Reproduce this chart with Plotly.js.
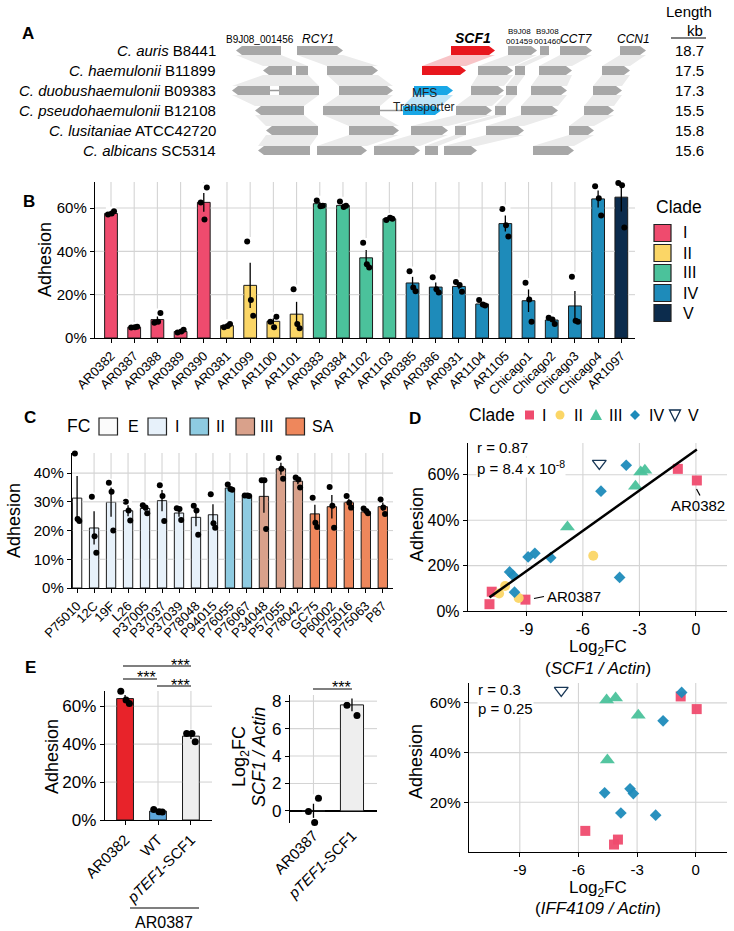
<!DOCTYPE html>
<html>
<head>
<meta charset="utf-8">
<script src="https://cdn.plot.ly/plotly-3.0.1.min.js"></script>
<style>body{margin:0;background:#fff}#fig{width:734px;height:931px}</style>
</head>
<body>
<div id="fig"></div>
<script>
const FONT = 'Liberation Sans, Arial, sans-serif';
const W = 734, H = 931;

// ---------- panel A: gene neighbourhood ----------
const species = ['<i>C. auris</i> B8441', '<i>C. haemulonii</i> B11899', '<i>C. duobushaemulonii</i> B09383',
  '<i>C. pseudohaemulonii</i> B12108', '<i>C. lusitaniae</i> ATCC42720', '<i>C. albicans</i> SC5314'];
const regionKb = ['18.7', '17.5', '17.3', '15.5', '15.8', '15.6'];
const rowY = [50.5, 70.5, 90.5, 110.5, 130.5, 150.5];
// [row, start, end, strand (1 fwd, -1 rev, 0 fragment), kind]
const genes = [
  [0,236,281,-1,'g'],[0,297,343,1,'g'],[0,451,495,1,'r'],[0,508,537,1,'g'],[0,540,549,0,'g'],[0,560,592,1,'g'],[0,620,646,1,'g'],
  [1,263,292,-1,'g'],[1,296,308,0,'g'],[1,327,378,1,'g'],[1,422,466,1,'r'],[1,478,513,1,'g'],[1,515,525,0,'g'],[1,539,572,1,'g'],[1,602,630,1,'g'],
  [2,232,270,-1,'g'],[2,279,319,0,'g'],[2,339,393,1,'g'],[2,414,453,1,'b'],[2,471,504,1,'g'],[2,506,517,0,'g'],[2,531,567,1,'g'],[2,593,622,1,'g'],
  [3,255,304,-1,'g'],[3,323,380,0,'g'],[3,403,441,1,'b'],[3,456,492,1,'g'],[3,495,506,0,'g'],[3,521,558,1,'g'],[3,584,614,1,'g'],
  [4,266,318,-1,'g'],[4,349,399,1,'g'],[4,411,448,1,'g'],[4,455,466,0,'g'],[4,486,524,1,'g'],[4,569,594,1,'g'],
  [5,258,310,-1,'g'],[5,317,367,1,'g'],[5,374,420,1,'g'],[5,425,438,0,'g'],[5,444,477,1,'g'],[5,533,574,1,'g']
];
const spacers = [[2,270,279],[3,380,403]];
// [upper row, upper start, upper end, lower start, lower end, kind]
const links = [
  [0,236,281,263,308,'g'],[0,297,343,327,378,'g'],[0,451,495,422,466,'r'],[0,508,537,478,513,'g'],[0,540,549,515,525,'g'],[0,560,592,539,572,'g'],[0,620,646,602,630,'g'],
  [1,263,308,232,319,'g'],[1,327,378,339,393,'g'],[1,478,513,471,504,'g'],[1,515,525,506,517,'g'],[1,539,572,531,567,'g'],[1,602,630,593,622,'g'],
  [2,232,319,255,304,'g'],[2,339,393,323,380,'g'],[2,414,453,403,441,'b'],[2,471,504,456,492,'g'],[2,506,517,495,506,'g'],[2,531,567,521,558,'g'],[2,593,622,584,614,'g'],
  [3,255,304,266,318,'g'],[3,323,380,349,399,'g'],[3,456,492,411,448,'g'],[3,495,506,455,466,'g'],[3,521,558,486,524,'g'],[3,584,614,569,594,'g'],
  [4,266,318,258,310,'g'],[4,349,399,317,367,'g'],[4,411,448,374,420,'g'],[4,455,466,425,438,'g'],[4,486,524,444,477,'g'],[4,569,594,533,574,'g']
];
const geneColor = {g: '#a7a7a7', r: '#e8161d', b: '#1aa7e6'};
const linkColor = {g: '#ebebeb', r: '#f8c4c7', b: '#bfe5f7'};

// ---------- panel B: adhesion per strain ----------
const bStrains = ['AR0382','AR0387','AR0388','AR0389','AR0390','AR0381','AR1099','AR1100','AR1101','AR0383','AR0384','AR1102',
  'AR1103','AR0385','AR0386','AR0931','AR1104','AR1105','Chicago1','Chicago2','Chicago3','Chicago4','AR1097'];
const bClade = ['I','I','I','I','I','II','II','II','II','III','III','III','III','IV','IV','IV','IV','IV','IV','IV','IV','IV','V'];
const bMean = [57.5,5,8.5,3,62.6,5.7,24.3,7.7,11,62,61.2,37,55,25.4,23.5,23.8,15.7,52.8,17.2,8.3,14.8,64.2,65];
const bReps = [[57,57.5,58.5],[4.8,5,5.2],[7,7.5,11.5],[2.5,3,3.8],[62.5,54.7,69.5],[5,5.5,6.5],[44.5,17.5,10.3],[7.5,5,9.8],
  [22.5,6.5,4.5],[63.5,60.8,61],[63,60.5,61],[44,34,32.5],[54.5,55.5,55],[30.8,23.3,21.6],[28,22.5,21],[25.8,24.5,21.3],
  [17.5,15.5,15],[59.5,52,46.8],[25.5,17.8,7.5],[9.3,8.5,6.5],[28.3,8,7.5],[70,64.5,56.5],[71.5,70.5,51]];
const cladeNames = ['I','II','III','IV','V'];
const cladeColor = {I:'#ef4b6e', II:'#fbd666', III:'#4bc29b', IV:'#1e8bba', V:'#0c2c4d'};

// ---------- panel C: adhesion per C. albicans isolate ----------
const cStrains = ['P75010','12C','19F','L26','P37005','P37037','P37039','P78048','P94015','P76055','P76067','P34048','P57055',
  'P78042','GC75','P60002','P75016','P75063','P87'];
const cGroup = ['E','I','I','I','I','I','I','I','I','II','II','III','III','III','SA','SA','SA','SA','SA'];
const cMean = [31.3,20.9,29.9,26.9,27.7,30.4,26.1,24.6,25.5,34.8,32.2,31.9,41.5,37.2,25.8,28.3,29.9,26.5,28.3];
const cReps = [[46.8,24,23.3],[31.8,18,12.3],[36.6,33.5,20],[30,27,23.5],[28.8,28,26],[35.8,32,23.3],[27.8,27.5,23.7],
  [28.6,27,18.5],[32.6,22.5,21],[36,34.5,34.2],[32.2,32.2,32],[37.5,37.5,20.5],[45.3,41.5,38],[38.5,37.8,35],
  [31.4,22.7,21.2],[35.2,28.6,21],[32,29.7,28],[27.7,26.8,26],[30.8,28,25.8]];
const fcNames = ['E','I','II','III','SA'];
const fcColor = {E:'#fbfbfb', I:'#e7f1fa', II:'#8ecbe1', III:'#d9a18b', SA:'#ee875c'};

// ---------- panel D: expression vs adhesion (same strain order as B) ----------
const scf1FC = [0.05,-9.05,-10.84,-10.96,-0.96,-9.41,-5.45,-10.45,-10.13,-2.71,-2.93,-6.82,-3.21,
  -8.55,-7.71,-8.91,-9.71,-5.04,-9.89,-9.63,-4.05,-3.7,-5.13];
const iff4109FC = [0.05,-3.98,-5.65,-4.18,-0.77,null,null,null,null,-4.1,-4.56,-4.52,-2.94,
  -3.36,-3.19,-4.66,-3.83,-1.67,null,null,-2.05,-0.72,-6.88];
const cladeSymbol = {I:'square', II:'circle', III:'triangle-up', IV:'diamond', V:'triangle-down-open'};
const cladeSize = {I:10, II:10, III:13, IV:9, V:12};

// ---------- panel E ----------
const eStrains = ['AR0382', 'WT', '<i>pTEF1</i>-SCF1'];
const eMean = [64, 4.7, 44.2];
const eReps = [[67.9,63.2,61.4],[5.6,4.4,4.2],[45.6,45.6,41.2]];
const eColor = ['#e8232a', '#5da5da', '#eeeeee'];
const eFcStrains = ['AR0387', '<i>pTEF1</i>-SCF1'];
const eFcMean = [0.01, 7.73];
const eFcReps = [[-0.05,-0.85,0.93],[7.7,8.54,6.95]];

const jitter = [-0.13, 0.03, 0.13];

// ---------- subplot placement (page pixels: left, right, top, bottom) and ranges ----------
const P = {2: [95, 635, 182, 338], 3: [72, 393, 453, 588], 4: [468, 727, 443, 611],
  5: [469, 727, 683, 852], 6: [105, 212, 691, 820], 7: [290, 377, 695, 823]};
const R = {
  x2: [-0.69, 22.59], y2: [0, 72],
  x3: [-0.3, 18.6], y3: [0, 47],
  x4: [-12.1, 1.65], y4: [0, 74],
  x5: [-11.6, 1.6], y5: [0, 68],
  x6: [-0.61, 2.64], y6: [0, 68],
  x7: [-0.61, 1.65], y7: [-0.88, 8.45]
};

// ---------- helpers (page pixels -> paper) ----------
const PX = x => x / W, PY = y => 1 - y / H;
const dx = n => [PX(P[n][0]), PX(P[n][1])];
const dy = n => [PY(P[n][3]), PY(P[n][2])];
const traces = [], shapes = [], annotations = [];
const GRID = '#d4d4d4';

function text(x, y, t, size, extra) {
  annotations.push(Object.assign({xref: 'paper', yref: 'paper', x: PX(x), y: PY(y), text: t, showarrow: false,
    font: {family: FONT, size, color: '#000'}, xanchor: 'center', yanchor: 'middle'}, extra || {}));
}
function seg(x0, y0, x1, y1, w, c) {
  shapes.push({type: 'line', xref: 'paper', yref: 'paper', x0: PX(x0), y0: PY(y0), x1: PX(x1), y1: PY(y1),
    line: {color: c || '#000', width: w || 1.2}});
}
function box(x0, y0, x1, y1, fill) {
  shapes.push({type: 'rect', xref: 'paper', yref: 'paper', x0: PX(x0), y0: PY(y1), x1: PX(x1), y1: PY(y0),
    fillcolor: fill, line: {color: '#222', width: 1.2}});
}
function poly(pts, fill, line) {
  const d = pts.map((p, i) => (i ? 'L' : 'M') + PX(p[0]) + ',' + PY(p[1])).join(' ') + ' Z';
  shapes.push({type: 'path', xref: 'paper', yref: 'paper', path: d, fillcolor: fill,
    line: line ? {color: line, width: 1.3} : {width: 0}});
}
// plain grid for a scatter subplot, drawn as a trace under the markers
function grid(n, xs, ys) {
  const xr = R['x' + n], yr = R['y' + n], gx = [], gy = [];
  xs.forEach(v => { gx.push(v, v, null); gy.push(yr[0], yr[1], null); });
  ys.forEach(v => { gx.push(xr[0], xr[1], null); gy.push(v, v, null); });
  traces.push({type: 'scatter', mode: 'lines', x: gx, y: gy, xaxis: 'x' + n, yaxis: 'y' + n,
    line: {color: GRID, width: 1.1}, hoverinfo: 'skip'});
}
// grid for a bar subplot: line pieces that stop at bars, error bars and dots, so they read as lying behind them
function barGrid(n, means, reps, errs, width, ys) {
  const [l, r, t, b] = P[n], xr = R['x' + n], yr = R['y' + n];
  const fx = v => l + (v - xr[0]) / (xr[1] - xr[0]) * (r - l);
  const fy = v => b - (v - yr[0]) / (yr[1] - yr[0]) * (b - t);
  const pad = 0.02 * (yr[1] - yr[0]);
  means.forEach((m, i) => {
    const top = Math.max(m + errs[i], ...reps[i]) + 1.5 * pad;
    if (top < yr[1]) seg(fx(i), fy(top), fx(i), t, 1.1, GRID);
  });
  ys.forEach(v => {
    let start = xr[0];
    means.forEach((m, i) => {
      let half = 0;
      if (v <= m) half = width / 2 + 0.01;
      else {
        if (v <= m + errs[i] + pad * 0.3) half = 0.04;
        if (reps[i].some(q => Math.abs(q - v) < 1.3 * pad)) half = 0.22;
      }
      if (half) { if (i - half > start) seg(fx(start), fy(v), fx(i - half), fy(v), 1.1, GRID); start = i + half; }
    });
    seg(fx(start), fy(v), r, fy(v), 1.1, GRID);
  });
}
function stdErr(r) {
  const m = r.reduce((a, b) => a + b, 0) / r.length;
  const v = r.reduce((a, b) => a + (b - m) ** 2, 0) / (r.length - 1);
  return Math.sqrt(v / r.length);
}
function barPanel(n, means, reps, colors, width, dot, ys) {
  const idx = means.map((_, i) => i), errs = reps.map(stdErr);
  traces.push({type: 'bar', x: idx, y: means, width, xaxis: 'x' + n, yaxis: 'y' + n,
    marker: {color: colors, line: {color: '#1a1a1a', width: 1}},
    error_y: {type: 'data', array: errs, color: '#000', thickness: 1.3, width: 0}, hoverinfo: 'skip'});
  barGrid(n, means, reps, errs, width, ys);
  const px = [], py = [];
  reps.forEach((r, i) => r.forEach((v, j) => { px.push(i + jitter[j]); py.push(v); }));
  traces.push({type: 'scatter', mode: 'markers', x: px, y: py, xaxis: 'x' + n, yaxis: 'y' + n, cliponaxis: false,
    marker: {color: '#000', size: dot || 6}, hoverinfo: 'skip'});
}

// ---------- panel A drawing (axis in diagram pixel units) ----------
const HALF = 4.5, TIP = 6;
function polyTrace(polys, color) {
  const x = [], y = [];
  polys.forEach(p => { p.concat([p[0]]).forEach(q => { x.push(q[0]); y.push(q[1]); }); x.push(null); y.push(null); });
  return {type: 'scatter', mode: 'lines', x, y, fill: 'toself', fillcolor: color, line: {width: 0, color},
    xaxis: 'x', yaxis: 'y', hoverinfo: 'skip', cliponaxis: false};
}
['g', 'r', 'b'].forEach(k => {
  const polys = links.filter(l => l[5] === k).map(([r, ts, te, bs, be]) =>
    [[ts, rowY[r] + HALF], [te, rowY[r] + HALF], [be, rowY[r + 1] - HALF], [bs, rowY[r + 1] - HALF]]);
  traces.push(polyTrace(polys, linkColor[k]));
});
spacers.forEach(([r, s, e]) => traces.push({type: 'scatter', mode: 'lines', x: [s, e], y: [rowY[r], rowY[r]],
  xaxis: 'x', yaxis: 'y', line: {color: '#9a9a9a', width: 1.5}, hoverinfo: 'skip'}));
['g', 'r', 'b'].forEach(k => {
  const polys = genes.filter(g => g[4] === k).map(([r, s, e, d]) => {
    const y = rowY[r];
    if (d === 1) return [[s, y - HALF], [e - TIP, y - HALF], [e, y], [e - TIP, y + HALF], [s, y + HALF]];
    if (d === -1) return [[e, y - HALF], [s + TIP, y - HALF], [s, y], [s + TIP, y + HALF], [e, y + HALF]];
    return [[s, y - HALF], [e, y - HALF], [e, y + HALF], [s, y + HALF]];
  });
  traces.push(polyTrace(polys, geneColor[k]));
});
species.forEach((s, i) => text(218, rowY[i], s, 15, {xanchor: 'right'}));
regionKb.forEach((s, i) => text(689, rowY[i], s, 15));
text(689, 12, 'Length', 15);
text(705, 30, 'kb', 15, {xanchor: 'right'});
seg(671, 38, 706, 38, 1.2);
text(260, 39, 'B9J08_001456', 10);
text(318, 39, '<i>RCY1</i>', 12);
text(473, 38, '<b><i>SCF1</i></b>', 14);
text(519, 37, 'B9J08<br>001459', 8);
text(547, 37, 'B9J08<br>001460', 8);
text(576, 39, '<i>CCT7</i>', 12);
text(633, 39, '<i>CCN1</i>', 12);
text(425, 93, 'MFS', 12, {font: {family: FONT, size: 12, color: '#222'}});
text(424, 107, 'Transporter', 12, {font: {family: FONT, size: 12, color: '#222'}});

// ---------- panel B ----------
barPanel(2, bMean, bReps, bClade.map(c => cladeColor[c]), 0.55, 6, [20, 40, 60]);
text(654, 207, 'Clade', 17.5, {xanchor: 'left'});
cladeNames.forEach((c, i) => {
  const y = 233 + i * 20;
  box(654, y - 8.5, 671, y + 8.5, cladeColor[c]);
  text(681, y, c, 16, {xanchor: 'left'});
});

// ---------- panel C ----------
barPanel(3, cMean, cReps, cGroup.map(g => fcColor[g]), 0.55, 6, [10, 20, 30, 40]);
text(78, 426, 'FC', 17.5);
const fcBoxX = [99, 148, 190, 236, 286], fcTextX = [133, 177, 220, 266, 323];
fcNames.forEach((g, i) => {
  box(fcBoxX[i], 418, fcBoxX[i] + 18.5, 435, fcColor[g]);
  text(fcTextX[i], 426.5, g, 16);
});

// ---------- panel D ----------
grid(4, [-9, -6, -3, 0], [20, 40, 60]);
grid(5, [-9, -6, -3, 0], [20, 40, 60]);
function scatterPanel(n, xs) {
  cladeNames.forEach(c => {
    const ii = bStrains.map((_, i) => i).filter(i => bClade[i] === c && xs[i] !== null);
    traces.push({type: 'scatter', mode: 'markers', x: ii.map(i => xs[i]), y: ii.map(i => bMean[i]),
      xaxis: 'x' + n, yaxis: 'y' + n, cliponaxis: false, hoverinfo: 'skip',
      marker: {symbol: cladeSymbol[c], size: cladeSize[c], color: c === 'V' ? '#0c2c4d' : cladeColor[c],
        opacity: 0.95, line: {width: c === 'V' ? 1.3 : 0, color: '#0c2c4d'}}});
  });
}
scatterPanel(4, scf1FC);
scatterPanel(5, iff4109FC);
// least-squares fit of adhesion on SCF1 expression
(function () {
  const n = scf1FC.length;
  const mx = scf1FC.reduce((a, b) => a + b, 0) / n, my = bMean.reduce((a, b) => a + b, 0) / n;
  let sxy = 0, sxx = 0;
  for (let i = 0; i < n; i++) { sxy += (scf1FC[i] - mx) * (bMean[i] - my); sxx += (scf1FC[i] - mx) ** 2; }
  const b = sxy / sxx, a = my - b * mx;
  const x0 = Math.min(...scf1FC), x1 = Math.max(...scf1FC);
  traces.push({type: 'scatter', mode: 'lines', x: [x0, x1], y: [a + b * x0, a + b * x1], xaxis: 'x4', yaxis: 'y4',
    line: {color: '#000', width: 2.5}, hoverinfo: 'skip'});
})();
// D legend keys
const LY = 415;
poly([[525, LY - 4.5], [534, LY - 4.5], [534, LY + 4.5], [525, LY + 4.5]], cladeColor.I);
shapes.push({type: 'circle', xref: 'paper', yref: 'paper', x0: PX(555.5), x1: PX(564.5), y0: PY(LY + 4.5), y1: PY(LY - 4.5),
  fillcolor: cladeColor.II, line: {width: 0}});
poly([[596, LY - 6], [602, LY + 5], [590, LY + 5]], cladeColor.III);
poly([[635, LY - 5], [640, LY], [635, LY + 5], [630, LY]], cladeColor.IV);
poly([[669.5, LY - 5], [680.5, LY - 5], [675, LY + 6]], 'rgba(0,0,0,0)', '#0c2c4d');
text(492, LY, 'Clade', 17.5);
[544, 578, 615, 656, 693].forEach((x, i) => text(x, LY, cladeNames[i], 16));
text(476, 447, 'r = 0.87', 15, {xanchor: 'left', bgcolor: '#fff', borderpad: 0});
text(476, 467, 'p = 8.4 x 10<sup>-8</sup>', 15, {xanchor: 'left', bgcolor: '#fff', borderpad: 0});
text(698, 505, 'AR0382', 15);
seg(696.5, 489, 700, 495.5, 1.2);
text(545, 596, 'AR0387', 15, {xanchor: 'left'});
seg(534, 598.5, 544, 596.5, 1.2);
text(598, 648, 'Log<sub>2</sub>FC', 17);
text(598, 668, '(<i>SCF1 / Actin</i>)', 17);
text(477, 689, 'r = 0.3', 15, {xanchor: 'left', bgcolor: '#fff', borderpad: 0});
text(477, 708, 'p = 0.25', 15, {xanchor: 'left', bgcolor: '#fff', borderpad: 0});
text(598, 889, 'Log<sub>2</sub>FC', 17);
text(598, 908, '(<i>IFF4109 / Actin</i>)', 17);

// ---------- panel E ----------
barPanel(6, eMean, eReps, eColor, 0.51, 7, [20, 40, 60]);
barPanel(7, eFcMean, eFcReps, ['#5da5da', '#eeeeee'], 0.6, 7, [2, 4, 6, 8]);
seg(123, 666, 191, 666);
seg(123, 679, 157, 679);
seg(157, 686, 191, 686);
text(180, 665, '***', 16);
text(146, 677, '***', 16);
text(180, 685, '***', 16);
seg(313, 689, 352, 689);
text(341, 687, '***', 16);
seg(130, 908, 199, 908);
text(164, 922, 'AR0387', 16);

// ---------- titles and panel letters ----------
const yTitle = (x, y, t) => text(x, y, t, 18, {textangle: -90});
yTitle(45, 260, 'Adhesion');
yTitle(14, 521, 'Adhesion');
yTitle(417, 525, 'Adhesion');
yTitle(416, 762, 'Adhesion');
yTitle(52, 757, 'Adhesion');
yTitle(240, 757, 'Log<sub>2</sub>FC');
yTitle(259, 757, '<i>SCF1 / Actin</i>');
[['A', 28, 33], ['B', 29, 201], ['C', 30, 417], ['D', 415, 418], ['E', 30, 667]]
  .forEach(([l, x, y]) => text(x, y, '<b>' + l + '</b>', 17));

// ---------- axes ----------
const base = {showline: true, linecolor: '#000', linewidth: 1.2, ticks: 'outside', ticklen: 4, tickcolor: '#000',
  showgrid: false, zeroline: false, fixedrange: true, automargin: false};
const ax = (o) => Object.assign({}, base, o);
const tf = size => ({family: FONT, size, color: '#000'});
const catAxis = (names, n, size) => ax({domain: dx(n), range: R['x' + n], tickmode: 'array',
  tickvals: names.map((_, i) => i), ticktext: names, tickangle: -45, tickfont: tf(size), anchor: 'y' + n});
const pctAxis = (n, vals, size) => ax({domain: dy(n), range: R['y' + n], tickmode: 'array', tickvals: vals,
  ticktext: vals.map(v => v + '%'), tickfont: tf(size), anchor: 'x' + n});
const fcTicks = [-9, -6, -3, 0];
const fcAxis = (n, size) => ax({domain: dx(n), range: R['x' + n], tickmode: 'array', tickvals: fcTicks,
  ticktext: fcTicks.map(String), tickfont: tf(size), anchor: 'y' + n});

const layout = {
  width: W, height: H, margin: {l: 0, r: 0, t: 0, b: 0}, showlegend: false,
  paper_bgcolor: '#fff', plot_bgcolor: 'rgba(0,0,0,0)', font: {family: FONT, color: '#000'},
  xaxis: {domain: [0, 1], range: [0, W], visible: false, fixedrange: true},
  yaxis: {domain: [PY(170), 1], range: [170, 0], visible: false, fixedrange: true},
  xaxis2: catAxis(bStrains, 2, 13),
  yaxis2: pctAxis(2, [0, 20, 40, 60], 15),
  xaxis3: catAxis(cStrains, 3, 13),
  yaxis3: pctAxis(3, [0, 10, 20, 30, 40], 15),
  xaxis4: fcAxis(4, 16),
  yaxis4: pctAxis(4, [0, 20, 40, 60], 16),
  xaxis5: fcAxis(5, 15),
  yaxis5: pctAxis(5, [20, 40, 60], 15.5),
  xaxis6: catAxis(eStrains, 6, 15),
  yaxis6: pctAxis(6, [0, 20, 40, 60], 17),
  xaxis7: Object.assign(catAxis(eFcStrains, 7, 15), {showline: false, ticks: ''}),
  yaxis7: ax({domain: dy(7), range: R.y7, tickmode: 'array', tickvals: [0, 2, 4, 6, 8],
    tickfont: tf(17), anchor: 'x7', zeroline: true, zerolinecolor: '#000', zerolinewidth: 1.3}),
  shapes, annotations
};

Plotly.newPlot('fig', traces, layout, {displayModeBar: false, staticPlot: true});
</script>
</body>
</html>
